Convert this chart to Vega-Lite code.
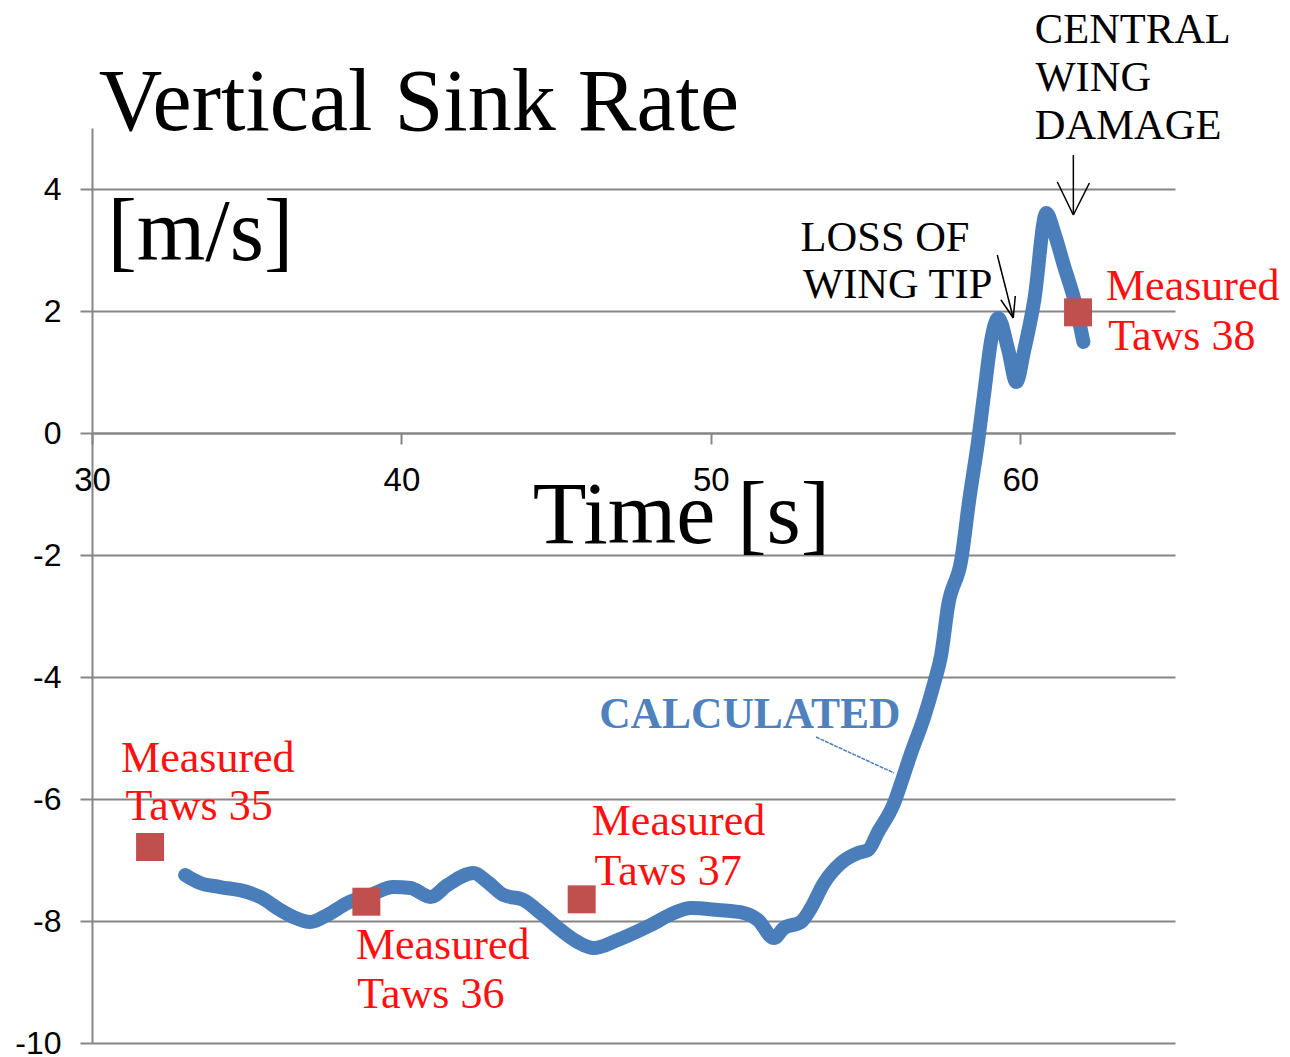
{
  "$schema": "https://vega.github.io/schema/vega-lite/v6.json",
  "width": 1083,
  "height": 915,
  "autosize": {"type": "none"},
  "padding": {"left": 92, "top": 128, "right": 115, "bottom": 14},
  "background": "white",
  "config": {"view": {"stroke": null}},
  "datasets": {
    "calc": [
      {"t": 33.010, "v": -7.246}, {"t": 33.495, "v": -7.377}, {"t": 34.142, "v": -7.443}, {"t": 35.016, "v": -7.525},
      {"t": 35.437, "v": -7.607}, {"t": 36.084, "v": -7.820}, {"t": 36.505, "v": -7.934}, {"t": 37.055, "v": -8.016},
      {"t": 37.605, "v": -7.902}, {"t": 38.252, "v": -7.705}, {"t": 38.997, "v": -7.574}, {"t": 39.741, "v": -7.443},
      {"t": 40.291, "v": -7.459}, {"t": 40.939, "v": -7.607}, {"t": 41.489, "v": -7.410}, {"t": 42.330, "v": -7.213},
      {"t": 42.783, "v": -7.361}, {"t": 43.301, "v": -7.574}, {"t": 43.948, "v": -7.656}, {"t": 44.498, "v": -7.869},
      {"t": 45.146, "v": -8.148}, {"t": 45.696, "v": -8.344}, {"t": 46.214, "v": -8.443}, {"t": 46.990, "v": -8.311},
      {"t": 48.058, "v": -8.066}, {"t": 48.803, "v": -7.869}, {"t": 49.353, "v": -7.787}, {"t": 50.227, "v": -7.820},
      {"t": 51.068, "v": -7.869}, {"t": 51.521, "v": -7.984}, {"t": 52.039, "v": -8.279}, {"t": 52.362, "v": -8.115},
      {"t": 52.913, "v": -8.016}, {"t": 53.236, "v": -7.787}, {"t": 53.657, "v": -7.377}, {"t": 54.207, "v": -7.049},
      {"t": 54.757, "v": -6.885}, {"t": 55.081, "v": -6.836}, {"t": 55.405, "v": -6.541}, {"t": 55.922, "v": -6.066},
      {"t": 56.149, "v": -5.738}, {"t": 56.472, "v": -5.246}, {"t": 56.893, "v": -4.656}, {"t": 57.217, "v": -4.098},
      {"t": 57.443, "v": -3.639}, {"t": 57.670, "v": -2.820}, {"t": 58.091, "v": -2.082}, {"t": 58.350, "v": -1.098},
      {"t": 58.641, "v": -0.115}, {"t": 58.835, "v": 0.656}, {"t": 59.061, "v": 1.525}, {"t": 59.288, "v": 1.885},
      {"t": 59.612, "v": 1.361}, {"t": 59.871, "v": 0.836}, {"t": 60.129, "v": 1.361}, {"t": 60.453, "v": 2.180},
      {"t": 60.841, "v": 3.607}, {"t": 61.100, "v": 3.279}, {"t": 61.424, "v": 2.721}, {"t": 61.748, "v": 2.180},
      {"t": 62.039, "v": 1.492}
    ],
    "measured": [
      {"t": 31.877, "v": -6.787, "name": "Taws 35"},
      {"t": 38.867, "v": -7.684, "name": "Taws 36"},
      {"t": 45.825, "v": -7.645, "name": "Taws 37"},
      {"t": 61.867, "v": 1.978, "name": "Taws 38"}
    ],
    "redLabels": [
      {"t": 30.94, "v": -5.557, "label": "Measured"},
      {"t": 31.08, "v": -6.344, "label": "Taws 35"},
      {"t": 38.53, "v": -8.623, "label": "Measured"},
      {"t": 38.57, "v": -9.426, "label": "Taws 36"},
      {"t": 46.15, "v": -6.590, "label": "Measured"},
      {"t": 46.24, "v": -7.410, "label": "Taws 37"},
      {"t": 62.77, "v": 2.180, "label": "Measured"},
      {"t": 62.84, "v": 1.361, "label": "Taws 38"}
    ],
    "blackLabels": [
      {"t": 52.90, "v": 2.989, "label": "LOSS OF"},
      {"t": 52.98, "v": 2.208, "label": "WING TIP"},
      {"t": 60.47, "v": 6.398, "label": "CENTRAL"},
      {"t": 60.49, "v": 5.611, "label": "WING"},
      {"t": 60.47, "v": 4.815, "label": "DAMAGE"}
    ],
    "bigLabels": [
      {"t": 30.22, "v": 4.967, "label": "Vertical Sink Rate"},
      {"t": 30.50, "v": 2.836, "label": "[m/s]"},
      {"t": 44.24, "v": -1.803, "label": "Time [s]"}
    ],
    "calcLabel": [
      {"t": 46.39, "v": -4.841, "label": "CALCULATED"}
    ],
    "arrows": [
      {"t": 61.715, "v": 4.557, "t2": 61.715, "v2": 3.574},
      {"t": 61.197, "v": 4.115, "t2": 61.715, "v2": 3.574},
      {"t": 62.233, "v": 4.098, "t2": 61.715, "v2": 3.574},
      {"t": 59.256, "v": 2.918, "t2": 59.773, "v2": 1.885},
      {"t": 59.838, "v": 2.246, "t2": 59.773, "v2": 1.885},
      {"t": 59.372, "v": 2.184, "t2": 59.773, "v2": 1.885}
    ],
    "leader": [
      {"t": 53.398, "v": -4.984, "t2": 55.922, "v2": -5.574}
    ]
  },
  "encoding": {
    "x": {
      "field": "t", "type": "quantitative", "title": null,
      "scale": {"domain": [30, 65], "nice": false, "zero": false},
      "axis": {
        "values": [30, 40, 50, 60], "orient": "bottom", "offset": -610, "grid": false,
        "domainColor": "#868686", "domainWidth": 2, "tickColor": "#868686", "tickWidth": 2, "tickSize": 11,
        "labelPadding": 20, "labelFont": "Liberation Sans", "labelFontSize": 33, "labelColor": "#000000",
        "labelFlush": false, "labelOverlap": false
      }
    },
    "y": {
      "field": "v", "type": "quantitative", "title": null,
      "scale": {"domain": [-10, 5], "nice": false, "zero": false},
      "axis": {
        "values": [-10, -8, -6, -4, -2, 0, 2, 4], "grid": true, "gridColor": "#868686", "gridWidth": 2,
        "domainColor": "#868686", "domainWidth": 2, "tickColor": "#868686", "tickWidth": 2, "tickSize": 12,
        "labelPadding": 19, "labelFont": "Liberation Sans", "labelFontSize": 32, "labelColor": "#000000",
        "labelExpr": "'' + datum.value", "labelFlush": false, "labelOverlap": false
      }
    }
  },
  "layer": [
    {
      "data": {"name": "calc"},
      "mark": {"type": "line", "color": "#4A7EBB", "strokeWidth": 14, "strokeCap": "round", "strokeJoin": "round", "interpolate": "monotone"}
    },
    {
      "data": {"name": "measured"},
      "mark": {"type": "point", "shape": "square", "filled": true, "color": "#C0504D", "size": 784, "opacity": 1}
    },
    {
      "data": {"name": "arrows"},
      "mark": {"type": "rule", "color": "#000000", "strokeWidth": 1.5},
      "encoding": {"x2": {"field": "t2"}, "y2": {"field": "v2"}}
    },
    {
      "data": {"name": "leader"},
      "mark": {"type": "rule", "color": "#4A7EBB", "strokeWidth": 1.5, "strokeDash": [4, 1]},
      "encoding": {"x2": {"field": "t2"}, "y2": {"field": "v2"}}
    },
    {
      "data": {"name": "redLabels"},
      "mark": {"type": "text", "align": "left", "baseline": "alphabetic", "font": "Liberation Serif", "fontSize": 44, "color": "#FF1010"},
      "encoding": {"text": {"field": "label"}}
    },
    {
      "data": {"name": "blackLabels"},
      "mark": {"type": "text", "align": "left", "baseline": "alphabetic", "font": "Liberation Serif", "fontSize": 42.5, "color": "#000000"},
      "encoding": {"text": {"field": "label"}}
    },
    {
      "data": {"name": "bigLabels"},
      "mark": {"type": "text", "align": "left", "baseline": "alphabetic", "font": "Liberation Serif", "fontSize": 88, "color": "#000000"},
      "encoding": {"text": {"field": "label"}}
    },
    {
      "data": {"name": "calcLabel"},
      "mark": {"type": "text", "align": "left", "baseline": "alphabetic", "font": "Liberation Serif", "fontSize": 43.5, "fontWeight": "bold", "color": "#4F81BD"},
      "encoding": {"text": {"field": "label"}}
    }
  ]
}
